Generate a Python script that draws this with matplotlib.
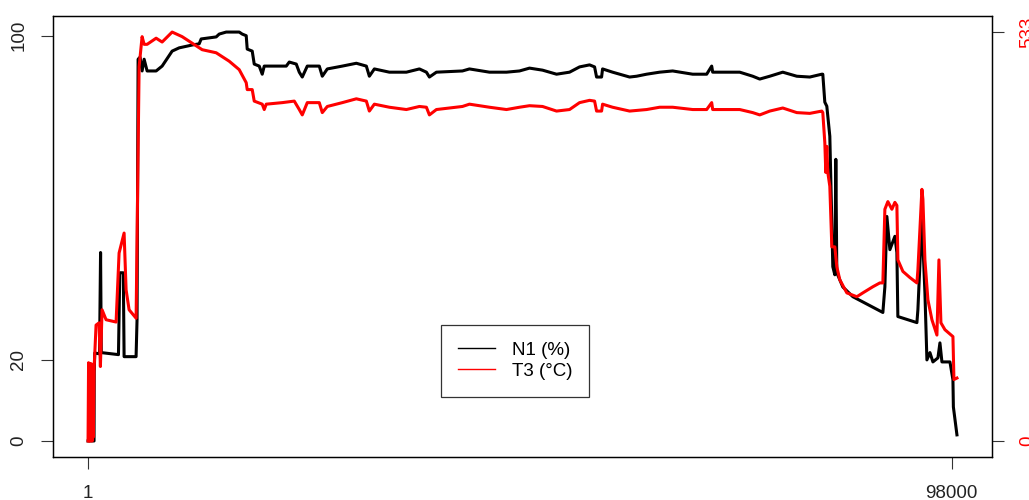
import matplotlib.pyplot as plt
from matplotlib.lines import Line2D

plt.rcParams['font.family'] = ['Liberation Sans', 'DejaVu Sans']

# N1 (%) trace, sample index vs percent
n1_x = [0, 680, 700, 760, 1300, 1420, 1500, 3450, 3600, 4000, 4090, 5450, 5560, 5680,
        5900, 6134, 6362, 6702, 7725, 8406, 9542, 10337, 11814, 12610, 12837, 14541,
        14882, 15677, 17154, 17495, 17949, 18062, 18630, 18858, 19426, 19766, 19994,
        22493, 22834, 23629, 23970, 24310, 24878, 26242, 26582, 27150, 28854, 30445,
        31581, 31922, 32490, 34194, 36125, 37602, 38397, 38738, 39533, 42486, 43282,
        45554, 47485, 48962, 50098, 51574, 53165, 54642, 55778, 56914, 57482, 57709,
        58277, 58390, 59526, 61458, 62253, 63389, 64866, 66342, 68614, 70205, 70773,
        70886, 72477, 73954, 75430, 76226, 77362, 78838, 80429, 81906, 83269, 83382,
        83610, 83837, 84178, 84518, 84746, 84859, 84973, 85654, 86790, 90198, 90426,
        90653, 90994, 91562, 91789, 91900, 94061, 94174, 94629, 94970, 95197, 95538,
        95878, 96446, 96674, 96901, 97810, 98150, 98200, 98605]
n1_pct = [0, 0, 17, 21.7, 21.5, 46.5, 21.8, 21.3, 41.5, 41.5, 20.8, 20.8, 30, 94.2,
          94.7, 91.3, 94.2, 91.3, 91.3, 92.5, 96.2, 97, 97.7, 98, 99.2, 99.7,
          100.4, 100.9, 100.9, 100.4, 100, 96.7, 96.2, 93, 92.5, 90.5, 92.5,
          92.5, 93.5, 93, 91, 89.8, 92.5, 92.5, 90, 91.8, 92.5, 93.2,
          92.5, 90, 91.8, 91, 91, 91.8, 91, 89.8, 91, 91.3, 91.8,
          91, 91, 91.3, 92, 91.5, 90.5, 91, 92.3, 92.8, 92.3, 89.8,
          89.8, 91.8, 91, 89.8, 90, 90.5, 91, 91.3, 90.5, 90.5, 92.5,
          91, 91, 91, 90, 89.3, 90, 91, 90, 89.8, 90.5, 90.5,
          83.6, 82.6, 75.2, 43, 41, 69.5, 41.5, 38, 35.6, 31.7, 38,
          55.4, 47.2, 50.5, 46.5, 30.7, 29.2, 32.4, 54.7, 36.6, 20, 21.8,
          19.5, 20.5, 24.2, 19.5, 19.5, 15.1, 8.4, 1.5]

# T3 (degC) trace
t3_x = [0, 60, 120, 180, 240, 300, 360, 420, 480, 540, 600, 682, 909, 1250, 1400,
        1590, 2045, 3181, 3522, 4090, 4317, 4658, 5453, 5566, 5794, 6134, 6362, 6702,
        7725, 8406, 9542, 10678, 12950, 14541, 16018, 17154, 17949, 18062, 18630,
        18858, 19766, 19994, 20221, 22038, 23402, 23970, 24310, 24878, 26242, 26582,
        27150, 28854, 30445, 31581, 31922, 32490, 34194, 36125, 37602, 38397, 38738,
        39533, 42486, 43282, 45554, 47485, 48962, 50098, 51574, 53165, 54642, 55778,
        56914, 57482, 57709, 58277, 58390, 59526, 61458, 63389, 64866, 66342, 68614,
        70205, 70773, 70886, 72477, 73954, 75430, 76226, 77362, 78838, 80429, 81906,
        83269, 83382, 83610, 83723, 83837, 83950, 84178, 84405, 84746, 84973, 85314,
        86109, 87245, 87926, 89062, 89858, 90198, 90426, 90766, 91221, 91562, 91789,
        91902, 92470, 93266, 94061, 94174, 94629, 94742, 94970, 95310, 95765, 96333,
        96560, 96787, 97242, 98150, 98264, 98605]
t3_degc = [0, 102, 0, 100, 0, 101, 0, 99, 0, 100, 5, 93, 151, 154, 97,
           171, 158, 155, 245, 271, 197, 171, 160, 271, 488, 527, 517, 517,
           525, 520, 533, 527, 510, 506, 495, 484, 467, 458, 458,
           443, 439, 432, 439, 441, 443, 432, 425, 441, 441, 428,
           436, 441, 446, 443, 430, 439, 435, 432, 436, 435, 425,
           432, 436, 439, 435, 432, 435, 437, 436, 430, 432, 441,
           444, 443, 430, 430, 439, 435, 430, 432, 435, 435, 432,
           432, 441, 432, 432, 432, 428, 425, 430, 434, 428, 427,
           430, 428, 389, 350, 384, 350, 332, 253, 253, 227, 210,
           193, 188, 193, 201, 206, 206, 302, 312, 302, 311, 307,
           236, 221, 213, 206, 223, 328, 315, 236, 184, 158, 138,
           236, 154, 145, 136, 80, 82]

x_ticks = [1, 98000]
n1_ticks = [0, 20, 100]
t3_ticks = [0, 533]

fig = plt.figure(figsize=(10.29, 5.0), dpi=100)
ax = fig.add_axes([53.3 / 1029, 42.7 / 500, 938.4 / 1029, 441.6 / 500])
ax2 = ax.twinx()

ax.plot(n1_x, n1_pct, color='black', lw=2.2)
ax2.plot(t3_x, t3_degc, color='red', lw=2.2)

xmax = max(n1_x)
ax.set_xlim(-0.04 * xmax, 1.04 * xmax)
top1 = max(n1_pct)
ax.set_ylim(-0.04 * top1, 1.04 * top1)
top2 = max(t3_degc)
ax2.set_ylim(-0.04 * top2, 1.04 * top2)

ax.set_xticks(x_ticks)
ax.set_xticklabels([str(v) for v in x_ticks])
ax.set_yticks(n1_ticks)
ax.set_yticklabels([str(v) for v in n1_ticks], rotation=90, va='center')
ax2.set_yticks(t3_ticks)
ax2.set_yticklabels([str(v) for v in t3_ticks], rotation=90, va='center', color='red')

ax.tick_params(axis='both', direction='out', length=8.6, width=0.8, labelsize=13.5,
               colors='#333333', labelcolor='#222222')
ax.tick_params(axis='x', pad=11)
ax.tick_params(axis='y', pad=10)
ax2.tick_params(axis='y', direction='out', length=8.6, width=0.8, labelsize=13.5,
                colors='#333333', labelcolor='red', pad=11)

for a in (ax, ax2):
    for s in a.spines.values():
        s.set_linewidth(0.9)
        s.set_color('black')

handles = [Line2D([], [], color='black', lw=1.0), Line2D([], [], color='red', lw=1.0)]
leg = ax2.legend(handles, ['N1 (%)', 'T3 (°C)'], loc='upper left',
                 bbox_to_anchor=(440.7 / 1029, 1 - 325 / 500), bbox_transform=fig.transFigure,
                 fontsize=13.5, frameon=True, fancybox=False, borderaxespad=0,
                 handlelength=2.0, handletextpad=0.9, borderpad=0.9, labelspacing=0.2)
leg.get_frame().set_edgecolor('black')
leg.get_frame().set_linewidth(0.9)

fig.savefig('out.png', dpi=100)
